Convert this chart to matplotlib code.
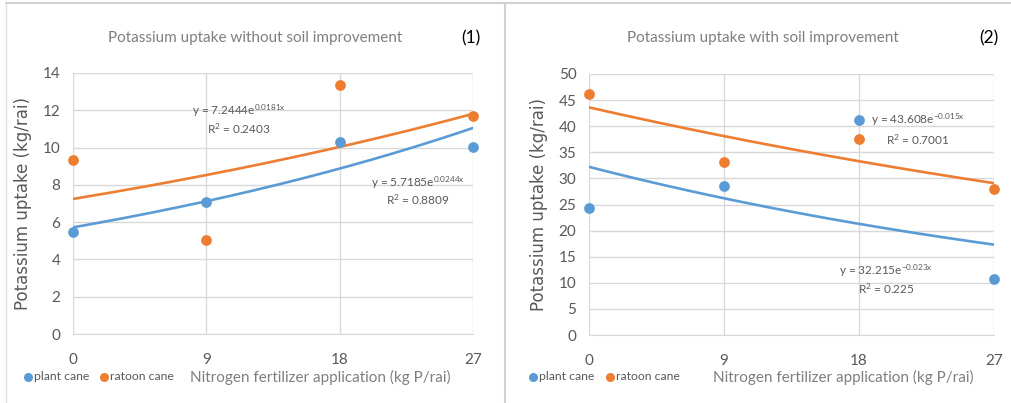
import matplotlib.pyplot as plt
import numpy as np
from matplotlib.lines import Line2D

plt.rcParams['font.family'] = ['Lato', 'DejaVu Sans']
plt.rcParams['mathtext.fontset'] = 'custom'
plt.rcParams['mathtext.rm'] = 'Lato'
plt.rcParams['mathtext.it'] = 'Lato:italic'

x = [0, 9, 18, 27]
xticks = [0, 9, 18, 27]

# panel 1: without soil improvement
plant1 = [5.45, 7.1, 10.3, 10.05]
ratoon1 = [9.35, 5.05, 13.35, 11.7]
plant1_fit = (5.7185, 0.0244, '0.8809')
ratoon1_fit = (7.2444, 0.0181, '0.2403')

# panel 2: with soil improvement
plant2 = [24.4, 28.5, 41.2, 10.7]
ratoon2 = [46.2, 33.2, 37.6, 28.0]
plant2_fit = (32.215, -0.023, '0.225')
ratoon2_fit = (43.608, -0.015, '0.7001')

blue = '#5B9BD5'
orange = '#ED7D31'
grey = '#595959'
light = '#7F7F7F'
grid = '#D9D9D9'

fig = plt.figure(figsize=(10.12, 4.03), dpi=100)

# frame lines
fig.add_artist(Line2D([0.006, 1], [0.992, 0.992], color='#D0D0D0', lw=1.5))
fig.add_artist(Line2D([0.006, 0.006], [0, 0.992], color='#E0E0E0', lw=1))
fig.add_artist(Line2D([0.4995, 0.4995], [0, 0.992], color='#D0D0D0', lw=1.5))


def eq_text(ax, pos, fit):
    a, b, r2 = fit
    ax.text(pos[0], pos[1] + pos[2], f'y = {a}e$^{{\\mathrm{{{b}x}}}}$',
            fontsize=8.5, color=grey, ha='center', va='center')
    ax.text(pos[0], pos[1] - pos[2], f'R$^{{\\mathrm{{2}}}}$ = {r2}',
            fontsize=8.5, color=grey, ha='center', va='center')


def panel(rect, plant, ratoon, pfit, rfit, ymax, ystep, title, tag, tag_x,
          title_x, peq_pos, req_pos):
    ax = fig.add_axes(rect)
    ax.scatter(x, plant, color=blue, s=60, zorder=3, clip_on=False,
               linewidths=0)
    ax.scatter(x, ratoon, color=orange, s=60, zorder=3, clip_on=False,
               linewidths=0)
    xs = np.linspace(0, 27, 200)
    ax.plot(xs, pfit[0] * np.exp(pfit[1] * xs), color=blue, lw=1.9, zorder=2)
    ax.plot(xs, rfit[0] * np.exp(rfit[1] * xs), color=orange, lw=1.9,
            zorder=2)
    ax.set_xlim(0, 27)
    ax.set_ylim(0, ymax)
    ax.set_xticks(xticks)
    ax.set_yticks(np.arange(0, ymax + 0.1, ystep))
    ax.grid(True, color=grid, lw=1)
    ax.set_axisbelow(True)
    for s in ['top', 'right', 'left']:
        ax.spines[s].set_visible(False)
    ax.spines['bottom'].set_color(grid)
    ax.tick_params(length=0, colors=grey, labelsize=11)
    ax.tick_params(axis='x', pad=14)
    ax.tick_params(axis='y', pad=9)
    ax.set_ylabel('Potassium uptake (kg/rai)', fontsize=12, color=grey,
                  fontfamily='DejaVu Sans', labelpad=8)
    fig.text(title_x, 0.906, title, fontsize=11, color=light, ha='center',
             va='center')
    fig.text(tag_x, 0.906, tag, fontsize=12.5, color='black', ha='center',
             va='center')
    eq_text(ax, peq_pos, pfit)
    eq_text(ax, req_pos, rfit)
    return ax


ax1 = panel([0.0721, 0.1712, 0.3953, 0.6477], plant1, ratoon1, plant1_fit,
            ratoon1_fit, 14, 2, 'Potassium uptake without soil improvement',
            '(1)', 0.4655, 0.252, (23.3, 7.67, 0.47), (11.2, 11.5, 0.47))
ax2 = panel([0.582, 0.1687, 0.4002, 0.6477], plant2, ratoon2, plant2_fit,
            ratoon2_fit, 50, 5, 'Potassium uptake with soil improvement',
            '(2)', 0.9775, 0.754, (19.8, 10.6, 1.8), (21.9, 39.3, 1.9))

# legend-like markers and x-label on the bottom row
ly = 1 - 377 / 403
for dot1, dot2, lab_x in [(28, 104, 320), (533, 610, 843)]:
    fig.add_artist(Line2D([dot1 / 1012], [ly], marker='o', ms=6.5,
                          color=blue, lw=0, markeredgewidth=0))
    fig.text((dot1 + 6) / 1012, ly, 'plant cane', color=grey,
             fontsize=8.8, va='center')
    fig.add_artist(Line2D([dot2 / 1012], [ly], marker='o', ms=6.5,
                          color=orange, lw=0, markeredgewidth=0))
    fig.text((dot2 + 6) / 1012, ly, 'ratoon cane', color=grey,
             fontsize=8.8, va='center')
    fig.text(lab_x / 1012, ly,
             'Nitrogen fertilizer application (kg P/rai)', color=light,
             fontsize=11, va='center', ha='center')

fig.savefig('out.png', dpi=100)
